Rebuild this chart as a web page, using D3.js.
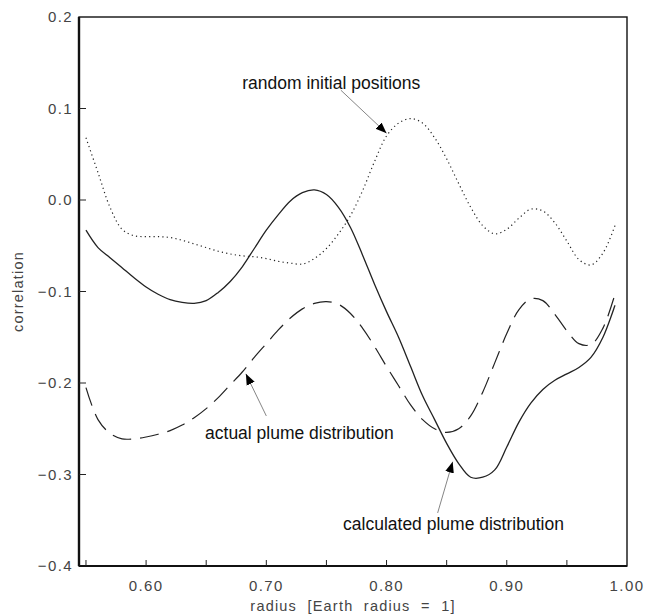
<!DOCTYPE html>
<html>
<head>
<meta charset="utf-8">
<script src="https://cdn.jsdelivr.net/npm/d3@7"></script>
<style>
  html, body { margin: 0; padding: 0; background: #fff; }
  svg { display: block; }
  .tick-label { font-family: "Liberation Sans", Arial, sans-serif; font-size: 15px; fill: #444; letter-spacing: 1.4px; }
  .axis-title { font-family: "Liberation Sans", Arial, sans-serif; font-size: 14.5px; fill: #444; letter-spacing: 1.2px; white-space: pre; }
  .note { font-family: "Liberation Sans", Arial, sans-serif; font-size: 17.5px; fill: #111; }
</style>
</head>
<body>
<svg id="chart" width="645" height="616"></svg>
<script>
// Sample radii (fraction of Earth radius)
const radius = [0.55,0.56,0.57,0.58,0.59,0.60,0.61,0.62,0.63,0.64,0.65,0.66,0.67,0.68,0.69,
                0.70,0.71,0.72,0.73,0.74,0.75,0.76,0.77,0.78,0.79,0.80,0.81,0.82,0.83,0.84,
                0.85,0.86,0.87,0.88,0.89,0.90,0.91,0.92,0.93,0.94,0.95,0.96,0.97,0.98,0.99];

// Correlation for the calculated plume distribution (solid)
const calculated = [-0.033,-0.052,-0.063,-0.074,-0.085,-0.095,-0.103,-0.109,-0.112,-0.113,
                    -0.110,-0.101,-0.089,-0.073,-0.053,-0.033,-0.016,-0.001,0.008,0.011,
                    0.006,-0.008,-0.030,-0.060,-0.092,-0.122,-0.150,-0.182,-0.214,-0.240,
                    -0.266,-0.288,-0.303,-0.303,-0.295,-0.270,-0.243,-0.222,-0.207,-0.197,
                    -0.190,-0.183,-0.172,-0.150,-0.115];

// Correlation for the actual plume distribution (dashed)
const actual = [-0.205,-0.240,-0.255,-0.261,-0.261,-0.259,-0.256,-0.252,-0.246,-0.238,
                -0.228,-0.216,-0.202,-0.188,-0.172,-0.157,-0.142,-0.129,-0.119,-0.113,
                -0.111,-0.114,-0.124,-0.140,-0.160,-0.182,-0.203,-0.224,-0.240,-0.250,
                -0.254,-0.250,-0.236,-0.210,-0.178,-0.146,-0.120,-0.108,-0.110,-0.125,
                -0.143,-0.157,-0.158,-0.140,-0.103];

// Correlation for random initial positions (dotted)
const randomInit = [0.068,0.030,-0.008,-0.032,-0.039,-0.040,-0.040,-0.041,-0.044,-0.048,
                    -0.052,-0.056,-0.059,-0.061,-0.062,-0.064,-0.067,-0.069,-0.070,-0.064,
                    -0.053,-0.037,-0.017,0.010,0.042,0.070,0.084,0.089,0.084,0.068,
                    0.045,0.018,-0.008,-0.028,-0.037,-0.032,-0.020,-0.010,-0.012,-0.025,
                    -0.045,-0.065,-0.071,-0.058,-0.028];

// Axis ticks
const xTicks = [0.55,0.60,0.65,0.70,0.75,0.80,0.85,0.90,0.95];
const xTickLabels = ["0.60","0.70","0.80","0.90","1.00"];
const yTicks = [0.1,0.0,-0.1,-0.2,-0.3];
const yTickLabels = ["0.2","0.1","0.0","−0.1","−0.2","−0.3","−0.4"];

// Annotations: label, label anchor point, arrow tail and tip (data units)
const notes = [
  {text: "random initial positions", x: 0.680, y: 0.121, anchor: "start",
   from: [0.762, 0.120], to: [0.800, 0.073]},
  {text: "actual plume distribution", x: 0.806, y: -0.261, anchor: "end",
   from: [0.700, -0.236], to: [0.683, -0.190]},
  {text: "calculated plume distribution", x: 0.9475, y: -0.361, anchor: "end",
   from: [0.8425, -0.342], to: [0.855, -0.286]}
];

const svg = d3.select("#chart");
const mLeft = 79, mRight = 627, mTop = 17, mBottom = 566;

const x = d3.scaleLinear().domain([0.5442, 1.0]).range([mLeft, mRight]);
const y = d3.scaleLinear().domain([-0.4, 0.2]).range([mBottom, mTop]);

// Frame
svg.append("rect")
  .attr("x", mLeft).attr("y", mTop)
  .attr("width", mRight - mLeft).attr("height", mBottom - mTop)
  .attr("fill", "none").attr("stroke", "#111").attr("stroke-width", 1.4);
svg.append("line").attr("x1", mLeft).attr("x2", mLeft).attr("y1", mTop).attr("y2", mBottom)
  .attr("stroke", "#111").attr("stroke-width", 2.4);
svg.append("line").attr("x1", mLeft).attr("x2", mRight).attr("y1", mBottom).attr("y2", mBottom)
  .attr("stroke", "#111").attr("stroke-width", 2.2);

// Inward ticks
svg.append("g").selectAll("line").data(xTicks).join("line")
  .attr("x1", d => x(d)).attr("x2", d => x(d))
  .attr("y1", mBottom).attr("y2", mBottom - 6)
  .attr("stroke", "#222").attr("stroke-width", 1);
svg.append("g").selectAll("line").data(yTicks).join("line")
  .attr("x1", mLeft).attr("x2", mLeft + 7)
  .attr("y1", d => y(d)).attr("y2", d => y(d))
  .attr("stroke", "#222").attr("stroke-width", 1);

// Tick labels
const xLabelVals = [0.6, 0.7, 0.8, 0.9, 1.0];
svg.append("g").selectAll("text").data(xLabelVals).join("text")
  .attr("class", "tick-label")
  .attr("x", d => x(d)).attr("y", 591)
  .attr("text-anchor", "middle")
  .text((d, i) => xTickLabels[i]);
const yLabelVals = [0.2, 0.1, 0.0, -0.1, -0.2, -0.3, -0.4];
svg.append("g").selectAll("text").data(yLabelVals).join("text")
  .attr("class", "tick-label")
  .attr("x", 73).attr("y", d => y(d) + 5)
  .attr("text-anchor", "end")
  .text((d, i) => yTickLabels[i]);

// Axis titles
svg.append("text").attr("class", "axis-title")
  .attr("x", (mLeft + mRight) / 2).attr("y", 611)
  .attr("text-anchor", "middle")
  .text("radius  [Earth  radius  =  1]");
svg.append("text").attr("class", "axis-title")
  .attr("transform", `translate(23, ${(mTop + mBottom) / 2}) rotate(-90)`)
  .attr("text-anchor", "middle")
  .text("correlation");

// Curves
const line = d3.line()
  .x((d, i) => x(radius[i]))
  .y(d => y(d))
  .curve(d3.curveCatmullRom.alpha(0.5));

svg.append("path").datum(randomInit).attr("d", line)
  .attr("fill", "none").attr("stroke", "#222").attr("stroke-width", 1.2)
  .attr("stroke-dasharray", "1.2,3.2");
svg.append("path").datum(actual).attr("d", line)
  .attr("fill", "none").attr("stroke", "#222").attr("stroke-width", 1.2)
  .attr("stroke-dasharray", "19,9");
svg.append("path").datum(calculated).attr("d", line)
  .attr("fill", "none").attr("stroke", "#222").attr("stroke-width", 1.3);

// Arrow heads
svg.append("defs").append("marker")
  .attr("id", "head").attr("viewBox", "0 0 10 10")
  .attr("refX", 10).attr("refY", 5)
  .attr("markerWidth", 11).attr("markerHeight", 11)
  .attr("markerUnits", "userSpaceOnUse")
  .attr("orient", "auto")
  .append("path").attr("d", "M0,1 L10,5 L0,9 Z").attr("fill", "#000");

const g = svg.append("g");
notes.forEach(n => {
  g.append("line")
    .attr("x1", x(n.from[0])).attr("y1", y(n.from[1]))
    .attr("x2", x(n.to[0])).attr("y2", y(n.to[1]))
    .attr("stroke", "#666").attr("stroke-width", 0.8)
    .attr("marker-end", "url(#head)");
  g.append("text").attr("class", "note")
    .attr("x", x(n.x)).attr("y", y(n.y))
    .attr("text-anchor", n.anchor)
    .text(n.text);
});
</script>
</body>
</html>
